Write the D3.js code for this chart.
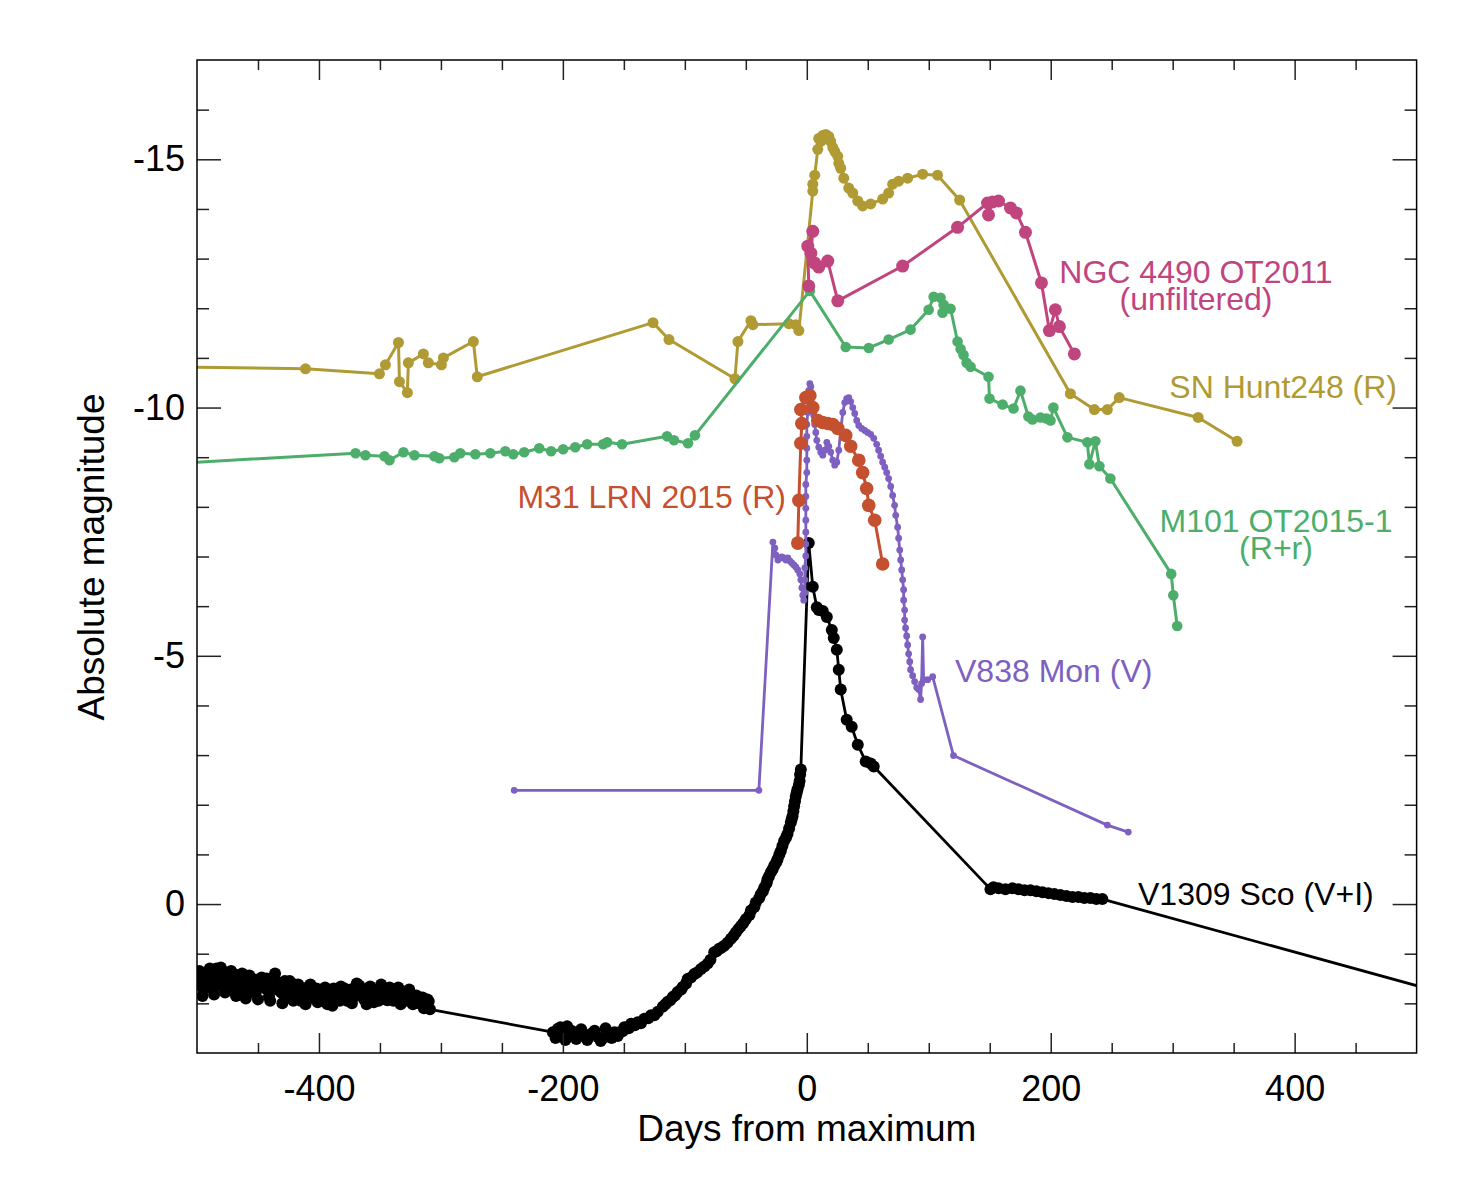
<!DOCTYPE html>
<html>
<head>
<meta charset="utf-8">
<script src="https://cdn.jsdelivr.net/npm/d3@7"></script>
<style>
body { margin: 0; background: #fff; }
text { font-family: "Liberation Sans", Arial, Helvetica, sans-serif; }
.tick line { stroke: #222; stroke-width: 1.5; }
</style>
</head>
<body>
<div id="chart"></div>
<script>
var width = 1475;
var height = 1180;
var PLOT_LEFT = 197, PLOT_RIGHT = 1416.6, PLOT_TOP = 60, PLOT_BOTTOM = 1053;

var COLOR_HUNT = '#b09a34';   // olive
var COLOR_M101 = '#4cae6a';   // green
var COLOR_NGC = '#c0457e';    // magenta
var COLOR_M31 = '#c5502f';    // orange-red
var COLOR_V838 = '#7d60c0';   // purple
var COLOR_V1309 = '#000000';

// tick values
var X_MAJOR = [-400, -200, 0, 200, 400];
var X_MINOR = [-450, -350, -300, -250, -150, -100, -50, 50, 100, 150, 250, 300, 350, 450];
var Y_MAJOR = [-15, -10, -5, 0];
var Y_MINOR = [-16, -14, -13, -12, -11, -9, -8, -7, -6, -4, -3, -2, -1, 1, 2];

// [days from maximum, absolute magnitude]
var snHunt248 = [
    [-600, -10.85], [-411, -10.78], [-350.4, -10.68], [-345.5, -10.86], [-334.8, -11.31], [-334.0, -10.52],
    [-327.5, -10.30], [-326.7, -10.90], [-314.4, -11.08], [-310.3, -10.90], [-299.6, -10.86], [-298.0, -11.00],
    [-273.4, -11.33], [-270.2, -10.62], [-126.1, -11.71], [-113.0, -11.37], [-58.9, -10.58], [-56.5, -11.33],
    [-45.8, -11.75], [-44.2, -11.67], [-14.7, -11.69], [-9.0, -11.67], [-6.5, -11.55], [4.9, -14.36],
    [4.9, -14.50], [6.5, -14.68], [9.0, -15.20], [9.8, -15.42], [11.5, -15.36], [13.1, -15.48], [15.6, -15.50],
    [18.0, -15.46], [19.6, -15.36], [21.3, -15.24], [22.9, -15.16], [25.4, -15.06], [26.2, -14.92],
    [27.8, -14.82], [30.3, -14.62], [34.4, -14.42], [37.7, -14.32], [41.8, -14.16], [45.8, -14.06],
    [52.4, -14.10], [62.2, -14.20], [67.1, -14.32], [70.4, -14.50], [75.3, -14.56], [82.7, -14.62],
    [95.0, -14.70], [107.2, -14.68], [125.3, -14.18], [216.1, -10.28], [235.8, -9.96], [246.4, -9.96],
    [256.2, -10.20], [320.9, -9.80], [352.8, -9.32]
];

var m101OT = [
    [-600, -8.76], [-370.0, -9.08], [-361.9, -9.04], [-346.3, -9.02], [-342.2, -8.94], [-330.7, -9.10],
    [-321.7, -9.04], [-305.4, -9.02], [-301.3, -8.98], [-289.0, -9.00], [-284.1, -9.08], [-271.8, -9.06],
    [-259.5, -9.08], [-247.2, -9.12], [-240.7, -9.06], [-231.7, -9.10], [-219.4, -9.18], [-209.6, -9.12],
    [-199.8, -9.16], [-189.9, -9.20], [-180.1, -9.26], [-167.0, -9.26], [-163.7, -9.30], [-151.5, -9.26],
    [-114.6, -9.42], [-108.9, -9.34], [-97.4, -9.28], [-91.7, -9.44], [2.5, -12.35], [31.9, -11.22],
    [50.8, -11.20], [67.1, -11.37], [85.1, -11.57], [99.9, -11.97], [104.0, -12.23], [109.7, -12.21],
    [112.2, -12.07], [111.3, -11.91], [117.9, -11.99], [123.6, -11.33], [126.1, -11.18], [128.5, -11.06],
    [131.0, -10.90], [134.3, -10.82], [149.0, -10.62], [149.8, -10.18], [160.5, -10.06], [169.5, -9.98],
    [175.2, -10.34], [181.7, -9.82], [185.0, -9.76], [191.6, -9.80], [196.5, -9.78], [199.8, -9.74],
    [202.2, -10.00], [213.7, -9.40], [230.0, -9.30], [231.7, -8.86], [236.6, -9.32], [239.9, -8.82],
    [248.9, -8.57], [298.8, -6.65], [300.5, -6.22], [303.7, -5.60]
];

var ngc4490 = [
    [1.6, -12.45], [0.8, -13.25], [4.9, -13.55], [3.3, -13.11], [6.5, -12.91], [9.8, -12.83], [17.2, -12.95],
    [25.4, -12.15], [78.6, -12.85], [123.6, -13.63], [148.2, -14.12], [149.0, -13.88], [152.3, -14.14],
    [157.2, -14.16], [167.0, -14.02], [171.9, -13.92], [179.3, -13.53], [192.4, -12.51], [198.9, -11.55],
    [203.8, -11.97], [207.1, -11.63], [219.4, -11.08]
];

var m31LRN = [
    [-7.4, -7.27], [-6.5, -8.13], [-4.9, -9.28], [-4.1, -9.68], [-4.9, -9.96], [-0.8, -10.20], [2.5, -10.24],
    [4.9, -10.00], [9.0, -9.74], [13.1, -9.70], [17.2, -9.68], [21.3, -9.66], [25.4, -9.58], [31.9, -9.44],
    [36.0, -9.22], [42.6, -8.94], [45.8, -8.69], [49.1, -8.37], [50.8, -8.03], [55.7, -7.73], [62.2, -6.85]
];

var v838Mon = [
    [-239.9, -2.29], [-39.3, -2.29], [-27.8, -7.29], [-26.2, -7.17], [-25.4, -7.03], [-23.7, -6.93],
    [-22.1, -6.97], [-20.5, -6.99], [-18.8, -6.97], [-17.2, -6.93], [-15.6, -6.97], [-13.9, -6.91],
    [-12.3, -6.87], [-10.6, -6.83], [-9.0, -6.79], [-7.4, -6.73], [-5.7, -6.65], [-4.9, -6.53], [-4.1, -6.37],
    [-3.3, -6.22], [-2.5, -6.12], [-1.6, -6.27], [-1.6, -6.53], [-1.6, -6.77], [-0.8, -7.01], [-0.8, -7.25],
    [-0.8, -7.49], [-0.8, -7.73], [-0.8, -7.97], [-0.8, -8.21], [-0.8, -8.45], [0, -8.69], [0, -8.94],
    [0, -9.18], [0, -9.42], [0, -9.66], [0.8, -9.90], [0.8, -10.14], [1.6, -10.34], [2.5, -10.48],
    [3.3, -10.42], [4.1, -10.24], [4.9, -10.04], [5.7, -9.84], [6.5, -9.66], [7.4, -9.50], [8.2, -9.34],
    [9.8, -9.20], [11.5, -9.10], [13.1, -9.04], [14.7, -9.14], [16.4, -9.30], [18.0, -9.22], [19.6, -9.10],
    [21.3, -8.94], [22.9, -8.84], [24.6, -8.90], [26.2, -9.14], [27.8, -9.54], [29.5, -9.90], [31.1, -10.10],
    [32.7, -10.18], [34.4, -10.20], [36.0, -10.12], [37.7, -10.00], [39.3, -9.88], [40.9, -9.74],
    [42.6, -9.64], [45.0, -9.58], [47.5, -9.54], [49.9, -9.50], [52.4, -9.46], [54.9, -9.38], [57.3, -9.26],
    [58.9, -9.14], [60.6, -9.02], [62.2, -8.90], [63.9, -8.80], [65.5, -8.69], [67.1, -8.57], [68.8, -8.41],
    [70.4, -8.23], [72.0, -8.03], [72.9, -7.83], [74.5, -7.59], [75.3, -7.37], [76.2, -7.13], [77.0, -6.93],
    [77.8, -6.73], [78.6, -6.53], [79.4, -6.33], [79.4, -6.12], [80.2, -5.92], [80.2, -5.72], [81.0, -5.56],
    [81.9, -5.40], [82.7, -5.22], [83.5, -5.04], [84.4, -4.88], [85.1, -4.72], [86.8, -4.60], [88.4, -4.48],
    [90.1, -4.36], [91.7, -4.32], [93.3, -4.12], [94.1, -4.44], [95.0, -5.38], [95.8, -4.52], [99.1, -4.52],
    [103.2, -4.58], [120.3, -2.99], [246.4, -1.59], [263.6, -1.45]
];

// V1309 Sco: listed in reading passes, put in time order below
var v1309Sco = [
    // quiescence, first pass
    [-499, 1.62], [-497, 1.48], [-495, 1.70], [-493, 1.55], [-491, 1.40], [-489, 1.66], [-487, 1.52],
    [-484, 1.30], [-482, 1.58], [-480, 1.45], [-478, 1.68], [-476, 1.38], [-474, 1.55], [-471, 1.72],
    [-469, 1.42], [-467, 1.60], [-464, 1.50], [-462, 1.76], [-459, 1.56], [-457, 1.44], [-454, 1.66],
    [-452, 1.80], [-449, 1.58], [-447, 1.48], [-444, 1.70], [-441, 1.86], [-439, 1.62], [-436, 1.40],
    [-433, 1.60], [-431, 1.78], [-428, 1.55], [-425, 1.68], [-423, 1.88], [-420, 1.62], [-418, 1.75],
    [-415, 1.95], [-412, 1.70], [-409, 1.84], [-407, 1.62], [-404, 1.90], [-401, 1.98], [-399, 1.76],
    [-396, 1.88], [-393, 2.02], [-391, 1.80], [-388, 1.70], [-385, 1.90], [-382, 1.66], [-380, 1.80],
    [-377, 1.95], [-374, 1.72], [-371, 1.86], [-369, 1.60], [-366, 1.78], [-363, 1.92], [-360, 1.70],
    [-357, 1.84], [-355, 1.98], [-352, 1.76], [-349, 1.62], [-346, 1.80], [-344, 1.94], [-341, 1.72],
    [-338, 1.85], [-335, 1.68], [-332, 1.90], [-330, 1.78], [-327, 1.95], [-324, 1.82], [-321, 1.90],
    [-318, 2.00], [-315, 1.88], [-313, 2.06], [-310, 1.96], [-309, 2.12],
    // quiescence, second pass
    [-498, 1.35], [-495.5, 1.85], [-492, 1.68], [-489.5, 1.30], [-486, 1.82], [-483, 1.62], [-480.5, 1.28],
    [-477, 1.78], [-474.5, 1.65], [-472, 1.35], [-468, 1.85], [-465.5, 1.70], [-463, 1.40], [-460, 1.90],
    [-456, 1.75], [-453, 1.52], [-450, 1.92], [-446, 1.65], [-443, 1.50], [-440, 1.95], [-437, 1.72],
    [-434, 1.58], [-430, 2.00], [-427, 1.80], [-424, 1.55], [-421, 1.95], [-417, 1.62], [-414, 1.85],
    [-411, 2.02], [-408, 1.66], [-405, 1.80], [-402, 1.70], [-398, 1.95], [-395, 1.68], [-392, 1.85],
    [-389, 2.05], [-386, 1.78], [-383, 1.95], [-379, 1.70], [-376, 1.84], [-373, 2.00], [-370, 1.75],
    [-367, 1.64], [-364, 1.85], [-361, 2.02], [-358, 1.66], [-354, 1.88], [-351, 1.95], [-348, 1.74],
    [-345, 1.92], [-342, 1.68], [-339, 1.95], [-336, 1.78], [-333, 2.02], [-329, 1.88], [-326, 1.72],
    [-323, 2.02], [-320, 1.84], [-317, 1.95], [-314, 2.10], [-311, 1.92],
    // minimum and slow rise
    [-208.2, 2.58], [-204.1, 2.51], [-200.0, 2.61], [-196.5, 2.46], [-195.4, 2.68], [-191.8, 2.64],
    [-187.7, 2.58], [-182.3, 2.64], [-176.8, 2.61], [-171.3, 2.68], [-167.3, 2.71], [-163.2, 2.61],
    [-157.8, 2.58], [-153.7, 2.58], [-149.6, 2.48], [-144.1, 2.41], [-138.6, 2.38], [-133.2, 2.31],
    [-127.7, 2.24], [-122.2, 2.17], [-118.1, 2.07], [-114.0, 1.97], [-109.9, 1.87], [-105.9, 1.77],
    [-101.8, 1.67], [-97.7, 1.51], [-92.2, 1.41], [-86.8, 1.31], [-81.3, 1.20], [-75.9, 0.97], [-71.8, 0.90],
    [-67.7, 0.84], [-62.2, 0.70], [-58.1, 0.57], [-54.0, 0.44], [-49.9, 0.30], [-45.8, 0.13], [-41.8, -0.03],
    [-37.7, -0.20], [-34.9, -0.33], [-32.2, -0.50], [-29.5, -0.64], [-26.7, -0.77], [-24.0, -0.90],
    [-21.3, -1.07], [-18.6, -1.27], [-15.8, -1.41], [-13.1, -1.64], [-11.7, -1.77], [-10.4, -1.97],
    [-9.0, -2.17], [-7.6, -2.31], [-5.9, -2.48], [-5.5, -2.61], [-4.9, -2.71],
    // minimum and slow rise, second pass
    [-206, 2.70], [-202, 2.48], [-198, 2.74], [-193, 2.55], [-189, 2.72], [-185, 2.52], [-180, 2.74],
    [-174, 2.55], [-169, 2.76], [-165, 2.50], [-160, 2.70], [-155, 2.66], [-151, 2.56], [-146, 2.50],
    [-141, 2.44], [-136, 2.40], [-130, 2.30], [-125, 2.24], [-116, 2.02], [-112, 1.94], [-108, 1.84],
    [-103, 1.72], [-99, 1.60], [-95, 1.48], [-90, 1.38], [-84, 1.26], [-79, 1.12], [-74, 0.95], [-70, 0.88],
    [-65, 0.78], [-60, 0.64], [-56, 0.50], [-52, 0.38], [-47, 0.22], [-43, 0.06], [-39, -0.12], [-36, -0.26],
    [-33, -0.42], [-31, -0.56], [-28, -0.70], [-25, -0.84], [-22.5, -1.00], [-20, -1.17], [-17, -1.34],
    [-14.5, -1.52], [-12.5, -1.70], [-11, -1.87], [-9.7, -2.07], [-8.3, -2.24], [-6.5, -2.40],
    // outburst and decline
    [1.6, -7.27], [4.9, -6.39], [8.2, -5.98], [9.8, -5.92], [13.1, -5.90], [16.4, -5.78], [20.5, -5.52],
    [22.1, -5.36], [24.6, -5.12], [26.2, -4.72], [27.8, -4.32], [32.7, -3.71], [36.8, -3.57], [41.8, -3.21],
    [48.3, -2.87], [52.4, -2.83], [54.9, -2.77],
    [150.6, -0.30], [153.1, -0.34], [157.2, -0.32], [162.9, -0.30], [168.6, -0.32], [173.6, -0.30],
    [178.5, -0.28], [183.4, -0.28], [188.3, -0.26], [193.2, -0.24], [198.1, -0.22], [203.0, -0.20],
    [207.9, -0.18], [212.9, -0.16], [217.8, -0.14], [222.7, -0.14], [227.6, -0.12], [232.5, -0.12],
    [237.4, -0.10], [242.3, -0.10], [560, 2.05]
];

var x = d3.scaleLinear().domain([-500, 500]).range([PLOT_LEFT, PLOT_RIGHT]);
var y = d3.scaleLinear().domain([-17, 3]).range([PLOT_TOP, PLOT_BOTTOM]);

var svg = d3.select('#chart')
    .append('svg')
    .attr('width', width)
    .attr('height', height);

svg.append('rect')
    .attr('width', width)
    .attr('height', height)
    .attr('fill', '#fff');

svg.append('clipPath')
    .attr('id', 'plot-clip')
    .append('rect')
    .attr('x', PLOT_LEFT)
    .attr('y', PLOT_TOP)
    .attr('width', PLOT_RIGHT - PLOT_LEFT)
    .attr('height', PLOT_BOTTOM - PLOT_TOP);

var drawAxes = function () {
    var fmt = function (d) { return String(d); };

    // bottom
    var gb = svg.append('g').attr('transform', 'translate(0,' + PLOT_BOTTOM + ')');
    gb.call(d3.axisBottom(x).tickValues(X_MAJOR).tickSize(-20).tickPadding(22).tickFormat(fmt));
    gb.append('g').call(d3.axisBottom(x).tickValues(X_MINOR).tickSize(-10).tickFormat(''));

    // top
    var gt = svg.append('g').attr('transform', 'translate(0,' + PLOT_TOP + ')');
    gt.call(d3.axisTop(x).tickValues(X_MAJOR).tickSize(-20).tickFormat(''));
    gt.append('g').call(d3.axisTop(x).tickValues(X_MINOR).tickSize(-10).tickFormat(''));

    // left
    var gl = svg.append('g').attr('transform', 'translate(' + PLOT_LEFT + ',0)');
    gl.call(d3.axisLeft(y).tickValues(Y_MAJOR).tickSize(-24).tickPadding(12).tickFormat(fmt));
    gl.append('g').call(d3.axisLeft(y).tickValues(Y_MINOR).tickSize(-12).tickFormat(''));

    // right
    var gr = svg.append('g').attr('transform', 'translate(' + PLOT_RIGHT + ',0)');
    gr.call(d3.axisRight(y).tickValues(Y_MAJOR).tickSize(-24).tickFormat(''));
    gr.append('g').call(d3.axisRight(y).tickValues(Y_MINOR).tickSize(-12).tickFormat(''));

    svg.selectAll('.domain').remove();
    svg.selectAll('.tick text')
        .attr('fill', '#000')
        .style('font-size', '36px')
        .style('font-family', '"Liberation Sans", Arial, Helvetica, sans-serif');

    svg.append('rect')
        .attr('x', PLOT_LEFT)
        .attr('y', PLOT_TOP)
        .attr('width', PLOT_RIGHT - PLOT_LEFT)
        .attr('height', PLOT_BOTTOM - PLOT_TOP)
        .attr('fill', 'none')
        .attr('stroke', '#000')
        .attr('stroke-width', 1.5);

    svg.append('text')
        .text('Days from maximum')
        .attr('x', (PLOT_LEFT + PLOT_RIGHT) / 2)
        .attr('y', 1141)
        .attr('text-anchor', 'middle')
        .style('font-size', '37px');

    svg.append('text')
        .text('Absolute magnitude')
        .attr('transform', 'translate(104,557) rotate(-90)')
        .attr('text-anchor', 'middle')
        .style('font-size', '37px');
};

var drawSeries = function (g, data, color, radius, lineWidth) {
    g.append('path')
        .datum(data)
        .attr('fill', 'none')
        .attr('stroke', color)
        .attr('stroke-width', lineWidth)
        .attr('stroke-linejoin', 'round')
        .attr('d', d3.line()
            .x(function (d) { return x(d[0]); })
            .y(function (d) { return y(d[1]); }));

    g.selectAll(null)
        .data(data)
        .enter().append('circle')
        .attr('cx', function (d) { return x(d[0]); })
        .attr('cy', function (d) { return y(d[1]); })
        .attr('r', radius)
        .attr('fill', color);
};

// one text element per label, extra lines as tspans
var setLabel = function (lines, color, xPos, baseline, anchor) {
    var t = svg.append('text')
        .attr('x', xPos)
        .attr('y', baseline)
        .attr('text-anchor', anchor)
        .attr('fill', color)
        .style('font-size', '32px');
    lines.forEach(function (line, i) {
        t.append('tspan')
            .attr('x', xPos)
            .attr('dy', i == 0 ? 0 : 27)
            .text(line);
    });
};

var plot = svg.append('g').attr('clip-path', 'url(#plot-clip)');

drawSeries(plot.append('g'), d3.sort(v1309Sco, function (d) { return d[0]; }), COLOR_V1309, 6, 2.8);
drawSeries(plot.append('g'), v838Mon, COLOR_V838, 3.4, 2.8);
drawSeries(plot.append('g'), m31LRN, COLOR_M31, 6.8, 3);
drawSeries(plot.append('g'), snHunt248, COLOR_HUNT, 5.5, 3);
drawSeries(plot.append('g'), m101OT, COLOR_M101, 5.3, 3);
drawSeries(plot.append('g'), ngc4490, COLOR_NGC, 6.5, 3);

drawAxes();

setLabel(['NGC 4490 OT2011', '(unfiltered)'], COLOR_NGC, 1196, 283, 'middle');
setLabel(['SN Hunt248 (R)'], COLOR_HUNT, 1397, 398, 'end');
setLabel(['M101 OT2015-1', '(R+r)'], COLOR_M101, 1276, 532, 'middle');
setLabel(['M31 LRN 2015 (R)'], COLOR_M31, 786, 508, 'end');
setLabel(['V838 Mon (V)'], COLOR_V838, 955, 682, 'start');
setLabel(['V1309 Sco (V+I)'], COLOR_V1309, 1138, 905, 'start');
</script>
</body>
</html>
